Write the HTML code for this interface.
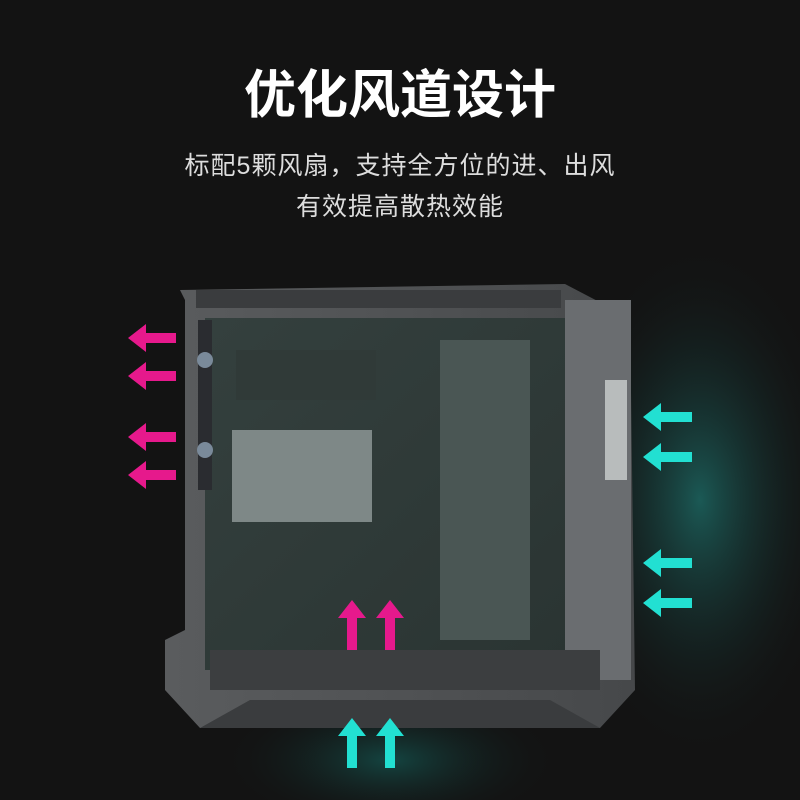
<!DOCTYPE html>
<html><head><meta charset="utf-8"><style>
html,body{margin:0;padding:0;background:#121212;}
#c{position:relative;width:800px;height:800px;overflow:hidden;background:#131313;font-family:"Liberation Sans","Noto Sans CJK SC",sans-serif;}
.t{position:absolute;left:0;width:800px;text-align:center;color:#fff;}
</style></head><body><div id="c">
<svg width="800" height="800" style="position:absolute;left:0;top:0">
<defs>
<radialGradient id="g1" cx="0.5" cy="0.5" r="0.5"><stop offset="0" stop-color="#1d6b66" stop-opacity="0.8"/><stop offset="1" stop-color="#131313" stop-opacity="0"/></radialGradient>
<radialGradient id="g2" cx="0.5" cy="0.5" r="0.5"><stop offset="0" stop-color="#155a55" stop-opacity="0.7"/><stop offset="1" stop-color="#131313" stop-opacity="0"/></radialGradient>
<linearGradient id="body" x1="0" x2="1"><stop offset="0" stop-color="#5a5c5e"/><stop offset="1" stop-color="#46484a"/></linearGradient>
<linearGradient id="glass" x1="0" y1="0" x2="1" y2="1"><stop offset="0" stop-color="#34403e"/><stop offset="1" stop-color="#2a3432"/></linearGradient>
</defs>
<ellipse cx="700" cy="500" rx="140" ry="260" fill="url(#g1)"/>
<ellipse cx="390" cy="760" rx="170" ry="70" fill="url(#g2)"/>
<path d="M180 290 L565 284 L630 318 L635 690 L600 728 L200 728 L165 690 L165 640 L185 630 L185 300 Z" fill="url(#body)"/>
<rect x="196" y="290" width="365" height="18" fill="#3a3c3e"/>
<rect x="205" y="318" width="365" height="352" fill="url(#glass)"/>
<rect x="565" y="300" width="66" height="380" fill="#6a6d70"/>
<rect x="605" y="380" width="22" height="100" fill="#b8bcbc"/>
<rect x="440" y="340" width="90" height="300" fill="#4a5654"/>
<rect x="232" y="430" width="140" height="92" fill="#7e8887"/>
<rect x="236" y="350" width="140" height="50" fill="#303a38"/>
<rect x="198" y="320" width="14" height="170" fill="#2a2c30"/>
<circle cx="205" cy="360" r="8" fill="#7a8a9a"/><circle cx="205" cy="450" r="8" fill="#7a8a9a"/>
<rect x="210" y="650" width="390" height="40" fill="#3c3e40"/>
<path d="M200 728 L250 700 L550 700 L600 728 Z" fill="#3a3c3e"/>
<g fill="#e6198c">
<path d="M128 338 L146 324 L146 333 L176 333 L176 343 L146 343 L146 352 Z"/>
<path d="M128 376 L146 362 L146 371 L176 371 L176 381 L146 381 L146 390 Z"/>
<path d="M128 437 L146 423 L146 432 L176 432 L176 442 L146 442 L146 451 Z"/>
<path d="M128 475 L146 461 L146 470 L176 470 L176 480 L146 480 L146 489 Z"/>
<path d="M352 600 L338 618 L347 618 L347 650 L357 650 L357 618 L366 618 Z"/>
<path d="M390 600 L376 618 L385 618 L385 650 L395 650 L395 618 L404 618 Z"/>
</g>
<g fill="#22e0d2">
<path d="M643 417 L661 403 L661 412 L692 412 L692 422 L661 422 L661 431 Z"/>
<path d="M643 457 L661 443 L661 452 L692 452 L692 462 L661 462 L661 471 Z"/>
<path d="M643 563 L661 549 L661 558 L692 558 L692 568 L661 568 L661 577 Z"/>
<path d="M643 603 L661 589 L661 598 L692 598 L692 608 L661 608 L661 617 Z"/>
<path d="M352 718 L338 736 L347 736 L347 768 L357 768 L357 736 L366 736 Z"/>
<path d="M390 718 L376 736 L385 736 L385 768 L395 768 L395 736 L404 736 Z"/>
</g>
</svg>
<div class="t" style="top:64px;font-size:52px;line-height:64px;font-weight:bold;">优化风道设计</div>
<div class="t" style="top:150px;font-size:25px;line-height:32px;color:#ddd;letter-spacing:1px;">标配5颗风扇，支持全方位的进、出风</div>
<div class="t" style="top:191px;font-size:25px;line-height:32px;color:#ddd;letter-spacing:1px;">有效提高散热效能</div>
</div></body></html>
